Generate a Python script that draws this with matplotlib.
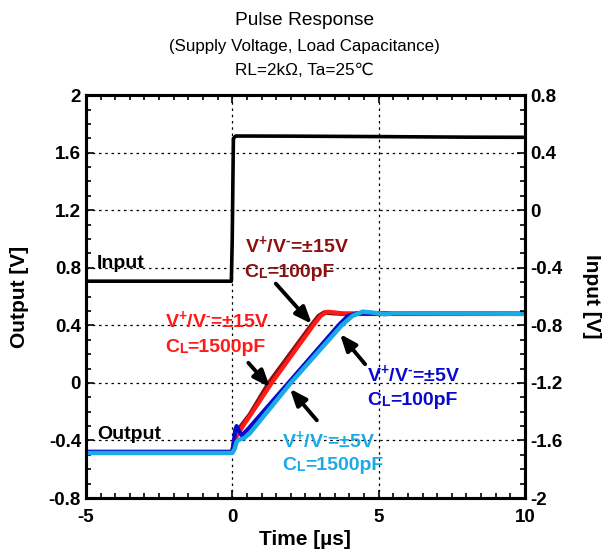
import matplotlib as mpl
import matplotlib.pyplot as plt
from matplotlib.ticker import MultipleLocator

mpl.rcParams.update({
    'font.family': ['Liberation Sans', 'DejaVu Sans'],
    'mathtext.fontset': 'custom',
    'mathtext.rm': 'Liberation Sans:bold',
    'mathtext.it': 'Liberation Sans:bold',
    'mathtext.bf': 'Liberation Sans:bold',
    'mathtext.default': 'regular',
})

# Input step, plotted against the right-hand axis
t_in = [-5, -0.03, 0.0, 0.04, 0.12, 2.0, 5.0, 8.0, 10.0]
v_in = [-0.493, -0.493, -0.2, 0.50, 0.516, 0.515, 0.512, 0.508, 0.507]

# Outputs, plotted against the left-hand axis
t_15v_100p = [-5, 0.0, 0.05, 0.12, 0.3, 0.6, 1.25, 2.7, 2.95, 3.15, 3.4, 3.8, 10]
v_15v_100p = [-0.48, -0.48, -0.42, -0.36, -0.30, -0.22, 0.0, 0.40, 0.465, 0.49, 0.485, 0.48, 0.48]

t_15v_1500p = [-5, 0.0, 0.06, 0.15, 0.4, 0.7, 1.35, 2.77, 3.02, 3.25, 3.5, 3.8, 10]
v_15v_1500p = [-0.48, -0.48, -0.44, -0.37, -0.29, -0.20, 0.0, 0.40, 0.465, 0.495, 0.49, 0.482, 0.48]

t_5v_100p = [-5, 0.0, 0.05, 0.1, 0.15, 0.22, 0.32, 0.5, 1.92, 3.63, 3.95, 4.3, 4.6, 10]
v_5v_100p = [-0.48, -0.48, -0.42, -0.33, -0.30, -0.33, -0.365, -0.33, 0.0, 0.40, 0.465, 0.485, 0.482, 0.48]

t_5v_1500p = [-5, 0.0, 0.08, 0.15, 0.22, 0.4, 0.6, 2.0, 3.74, 4.1, 4.45, 4.75, 5.2, 5.5, 10]
v_5v_1500p = [-0.487, -0.487, -0.46, -0.41, -0.395, -0.385, -0.35, 0.0, 0.40, 0.465, 0.495, 0.49, 0.477, 0.484, 0.48]

DARKRED = '#8B1010'
RED = '#FF1A1A'
BLUE = '#0A0ACC'
LIGHTBLUE = '#1AAAE6'

LABEL_FS = 14


def supply_label(ax, x, y, volts, color):
    # V+/V- with small raised signs
    ax.text(x, y, 'V$^{+}$/V$^{\u2010}$=±%sV' % volts, color=color,
            fontsize=LABEL_FS, fontweight='bold', ha='left', va='center', zorder=6)


def cap_label(ax, x, y, cap, color):
    # "C" + smaller "L" on the baseline + "=...pF"
    t1 = ax.text(x, y, 'C', color=color, fontsize=LABEL_FS, fontweight='bold',
                 ha='left', va='center', zorder=6)
    t2 = ax.annotate('L', xy=(1, 0), xycoords=t1, ha='left', va='bottom',
                     color=color, fontsize=LABEL_FS * 0.72, fontweight='bold', zorder=6)
    ax.annotate('=%spF' % cap, xy=(1, 0), xycoords=t2, ha='left', va='bottom',
                color=color, fontsize=LABEL_FS, fontweight='bold', zorder=6)


fig = plt.figure(figsize=(6.09, 5.5), dpi=100)
ax = fig.add_axes([0.141, 0.0945, 0.721, 0.7325])
ax2 = ax.twinx()

ax.plot(t_15v_100p, v_15v_100p, color=DARKRED, lw=3.2, zorder=3)
ax.plot(t_15v_1500p, v_15v_1500p, color=RED, lw=3.0, zorder=3)
ax.plot(t_5v_100p, v_5v_100p, color=BLUE, lw=3.0, zorder=3)
ax.plot(t_5v_1500p, v_5v_1500p, color=LIGHTBLUE, lw=3.2, zorder=3)
ax2.plot(t_in, v_in, color='black', lw=2.6)

ax.set_xlim(-5, 10)
ax.set_ylim(-0.8, 2.0)
ax2.set_ylim(-2.0, 0.8)

ax.xaxis.set_major_locator(MultipleLocator(5))
ax.xaxis.set_minor_locator(MultipleLocator(0.5))
ax.yaxis.set_major_locator(MultipleLocator(0.4))
ax.yaxis.set_minor_locator(MultipleLocator(0.1))
ax2.yaxis.set_major_locator(MultipleLocator(0.4))
ax2.yaxis.set_minor_locator(MultipleLocator(0.1))

fmt = lambda v, p: f'{v:g}' if abs(v) > 1e-9 else '0'
ax.yaxis.set_major_formatter(fmt)
ax2.yaxis.set_major_formatter(fmt)
ax.xaxis.set_major_formatter(fmt)

ax.tick_params(axis='both', which='both', direction='in', top=True,
               labelsize=13.5, width=1.2)
ax.tick_params(which='major', length=6)
ax.tick_params(which='minor', length=3.5)
ax.tick_params(axis='x', pad=8)
ax2.tick_params(axis='y', which='both', direction='in', labelsize=13.5, width=1.2)
ax2.tick_params(which='major', length=6)
ax2.tick_params(which='minor', length=3.5)
for a in (ax, ax2):
    for lab in a.get_xticklabels() + a.get_yticklabels():
        lab.set_fontweight('bold')
    for s in a.spines.values():
        s.set_linewidth(2.2)

ax.grid(True, which='major', color='black', linestyle=(0, (2, 3)), linewidth=0.9)

ax.set_xlabel('Time [µs]', fontsize=15, fontweight='bold', labelpad=3)
ax.set_ylabel('Output [V]', fontsize=15, fontweight='bold', labelpad=14)
ax2.set_ylabel('Input [V]', fontsize=15, fontweight='bold', rotation=270, labelpad=28)

fig.text(0.5, 0.963, 'Pulse Response', ha='center', va='center', fontsize=13.8)
fig.text(0.5, 0.916, '(Supply Voltage, Load Capacitance)', ha='center', va='center', fontsize=12.2)
fig.text(0.5, 0.872, 'RL=2kΩ, Ta=25℃', ha='center', va='center', fontsize=12.3,
         family=['Liberation Sans', 'DejaVu Sans'])

lab_kw = dict(fontsize=LABEL_FS, fontweight='bold', ha='left', va='center', zorder=6)
ax.text(-4.62, 0.83, 'Input', color='black', **lab_kw)
ax.text(-4.62, -0.36, 'Output', color='black', **lab_kw)

supply_label(ax, 0.42, 0.96, '15', DARKRED)
cap_label(ax, 0.42, 0.77, '100', DARKRED)
supply_label(ax, -2.3, 0.44, '15', RED)
cap_label(ax, -2.3, 0.245, '1500', RED)
supply_label(ax, 4.62, 0.06, '5', BLUE)
cap_label(ax, 4.62, -0.12, '100', BLUE)
supply_label(ax, 1.71, -0.40, '5', LIGHTBLUE)
cap_label(ax, 1.71, -0.575, '1500', LIGHTBLUE)

arrow = dict(arrowstyle='-|>,head_length=1.0,head_width=0.4', color='black',
             lw=2.8, shrinkA=0, shrinkB=0)
ax.annotate('', xy=(2.72, 0.41), xytext=(1.49, 0.69), arrowprops=arrow, zorder=7)
ax.annotate('', xy=(1.29, -0.03), xytext=(0.55, 0.14), arrowprops=arrow, zorder=7)
ax.annotate('', xy=(3.68, 0.34), xytext=(4.54, 0.13), arrowprops=arrow, zorder=7)
ax.annotate('', xy=(1.97, -0.04), xytext=(2.89, -0.26), arrowprops=arrow, zorder=7)

fig.savefig('out.png', dpi=100)
